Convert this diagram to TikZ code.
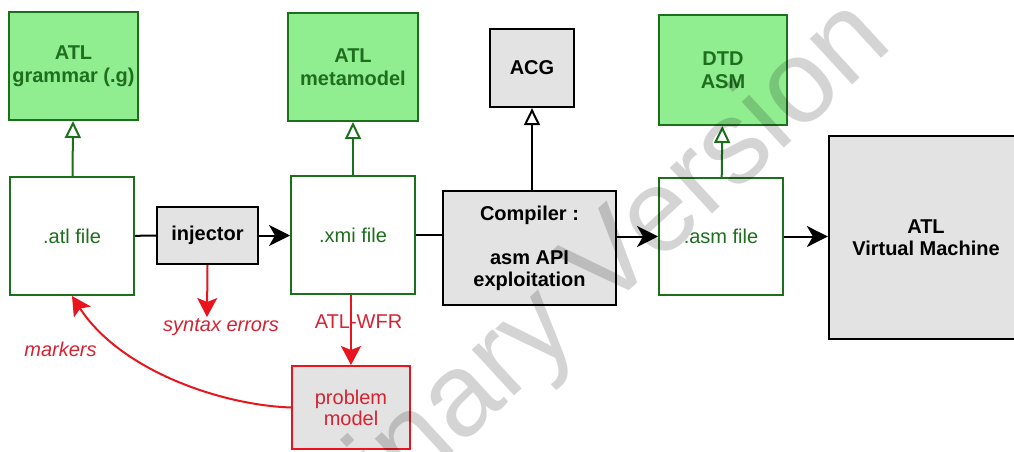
\documentclass[tikz,border=0pt]{standalone}
\usepackage{fontspec}
\setmainfont{Liberation Sans}
\usetikzlibrary{arrows.meta}
\definecolor{mgreen}{RGB}{144,238,144}
\definecolor{dgreen}{RGB}{28,112,28}
\definecolor{tgreen}{RGB}{30,110,30}
\definecolor{boxgrey}{RGB}{227,227,227}
\definecolor{ered}{RGB}{232,20,30}
\definecolor{tred}{RGB}{212,35,50}

\begin{document}
\begin{tikzpicture}[x=1pt,y=-1pt,
    every node/.style={inner sep=0pt,align=center,font=\fontsize{20}{23}\selectfont},
    meta/.style={draw=dgreen,fill=mgreen,line width=2pt,text=tgreen,font=\fontsize{20}{23}\selectfont\bfseries},
    file/.style={draw=dgreen,fill=white,line width=2pt,text=tgreen},
    tool/.style={draw=black,fill=boxgrey,line width=2.2pt,font=\fontsize{20}{22}\selectfont\bfseries},
    err/.style={draw=ered,fill=boxgrey,line width=2pt,text=tred,font=\fontsize{20}{21}\selectfont},
    flow/.style={draw=black,line width=2pt,-{Stealth[length=21pt,width=21pt,inset=6pt]}},
    link/.style={draw=black,line width=2pt},
    conf/.style={line width=2pt,-{Triangle[length=17pt,width=16pt,fill=white]}},
    errflow/.style={draw=ered,line width=2pt,-{Stealth[length=19pt,width=20pt,inset=4pt]}},
    errlbl/.style={text=tred}]
  \useasboundingbox (0,0) rectangle (1014,452);

  \node[meta,minimum width=129pt,minimum height=108pt] (gram) at (73.5,66) {ATL\\grammar (.g)};
  \node[meta,minimum width=130pt,minimum height=108pt] (mm) at (353,67) {ATL\\metamodel};
  \node[tool,minimum width=84pt,minimum height=78pt] (acg) at (532,68) {ACG};
  \node[meta,minimum width=128pt,minimum height=110pt] (dtd) at (723,70) {DTD\\ASM};

  \node[file,minimum width=124pt,minimum height=118pt] (atl) at (72,236) {.atl file};
  \node[tool,minimum width=101pt,minimum height=57pt] (inj) at (207.5,235.5) {injector};
  \node[file,minimum width=124pt,minimum height=118pt] (xmi) at (353,235) {.xmi file};
  \node[tool,minimum width=173pt,minimum height=114pt] (comp) at (529.5,248) {Compiler :\\[22pt]asm API\\exploitation};
  \node[file,minimum width=124pt,minimum height=117pt] (asmf) at (721,236.5) {.asm file};
  \node[tool,minimum width=201pt,minimum height=203pt] (vm) at (929.5,237.5) {\hspace*{-7pt}ATL\\\hspace*{-7pt}Virtual Machine};
  \node[err,minimum width=118pt,minimum height=83pt] (pm) at (351,407.5) {problem\\model};

  \coordinate (synerr) at (207,317);
  \node[errlbl] (synlbl) at (221,327) {\itshape syntax errors};
  \node[errlbl] (wfrlbl) at (358.5,322) {ATL-WFR};
  \node[errlbl] (mklbl) at (60.5,349) {\itshape markers};

  \draw[conf,dgreen] (atl) -- (gram);
  \draw[conf,dgreen] (xmi) -- (mm);
  \draw[conf,black] (comp.north -| acg.south) -- (acg.south);
  \draw[conf,dgreen] (asmf) -- (dtd);

  \draw[link] (atl) -- (inj);
  \draw[flow] (inj) -- (inj.east -| xmi.west);
  \draw[link] (xmi.east) -- (xmi.east -| comp.west);
  \draw[flow] (comp.east |- asmf.west) -- (asmf.west);
  \draw[flow] (asmf.east) -- (asmf.east -| vm.west);

  \draw[errflow] (inj.south) -- (synerr);
  \draw[errflow] (xmi.south -| pm.north) -- (pm.north);
  \draw[errflow] (pm.west) .. controls (220,405) and (120,370) .. (atl.south);

  \node[rotate=42.6,text=black,opacity=0.17,font=\fontsize{118}{118}\selectfont] (wmark) at (500,368) {Preliminary Version};
\end{tikzpicture}
\end{document}
